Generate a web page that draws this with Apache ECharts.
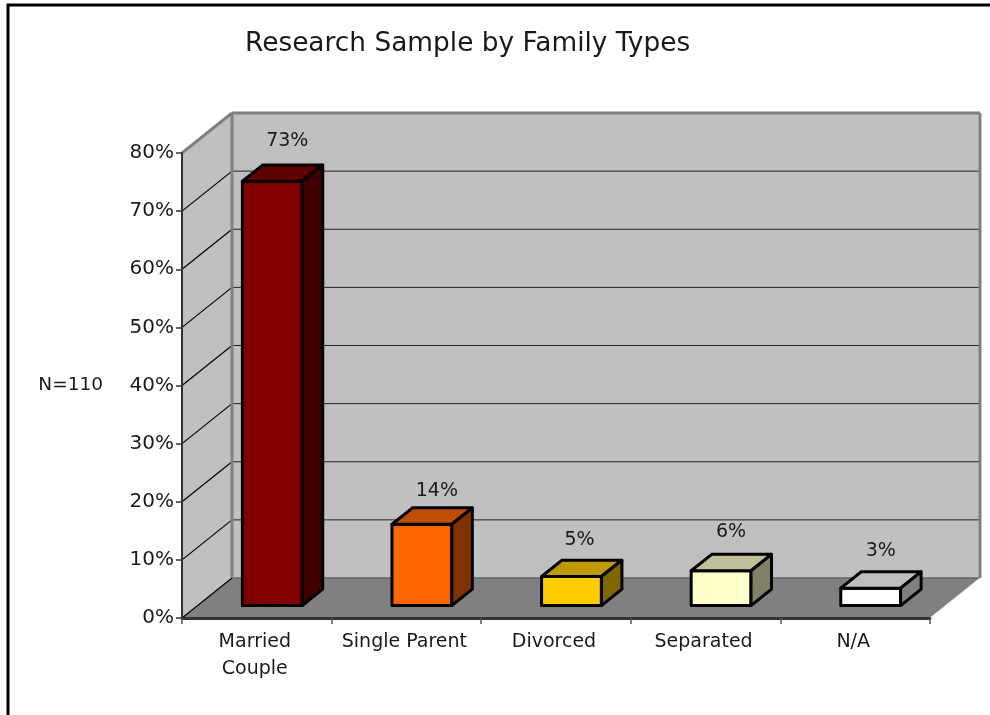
<!DOCTYPE html>
<html>
<head>
<meta charset="utf-8">
<title>Research Sample by Family Types</title>
<script src="https://cdn.jsdelivr.net/npm/echarts@6/dist/echarts.min.js"></script>
<style>
  html, body { margin: 0; padding: 0; background: #fff; }
  #chart { width: 990px; height: 715px; }
</style>
</head>
<body>
<div id="chart"></div>
<script>
// Family types and the share of the sample in each, in percent.
const categories = ['Married\nCouple', 'Single Parent', 'Divorced', 'Separated', 'N/A'];
const shares = [73, 14, 5, 6, 3];
const faceColors = ['#800000', '#FF6600', '#FFCC00', '#FFFFCC', '#FFFFFF'];
const gridValues = [0, 10, 20, 30, 40, 50, 60, 70, 80];

// Oblique projection of the box: how far the back wall sits from the front plane.
const depth = [50, -40];
const barFront = 0.31;
const barBack = 0.72;
const barWidthRatio = 0.4;
// Hand-placed value labels, relative to the top of each bar.
const labelNudge = [[15, -24], [15, -17], [8, -20], [10, -22], [10, -21]];

const FONT = '"DejaVu Sans", Verdana, sans-serif';
const INK = '#1a1a1a';

function shade(hex, k) {
  const n = parseInt(hex.slice(1), 16);
  const c = [n >> 16, (n >> 8) & 255, n & 255].map(v => Math.round(v * k));
  return 'rgb(' + c.join(',') + ')';
}

function along(p, t) {
  return [p[0] + depth[0] * t, p[1] + depth[1] * t];
}

function poly(points, fill, stroke, lineWidth) {
  return {
    type: 'polygon',
    shape: { points },
    style: { fill, stroke: stroke || 'none', lineWidth: lineWidth || 0, lineJoin: 'round' }
  };
}

function line(a, b, stroke, lineWidth) {
  return {
    type: 'line',
    shape: { x1: a[0], y1: a[1], x2: b[0], y2: b[1] },
    style: { stroke, lineWidth }
  };
}

// Walls, floor and gridlines of the box, hung off the axis scales.
function renderBox(params, api) {
  const cs = params.coordSys;
  const left = cs.x;
  const right = cs.x + cs.width;
  const yAt = v => api.coord([0, v])[1];
  const y0 = yAt(0);
  const yTop = yAt(80);
  const fl = [left, y0];
  const fr = [right, y0];
  const tl = [left, yTop];
  const tr = [right, yTop];
  const children = [
    poly([fl, tl, along(tl, 1), along(fl, 1)], '#C0C0C0'),
    poly([along(fl, 1), along(tl, 1), along(tr, 1), along(fr, 1)], '#C0C0C0'),
    poly([fl, along(fl, 1), along(fr, 1), fr], '#808080')
  ];
  gridValues.slice(1, -1).forEach(v => {
    const a = [left, yAt(v)];
    const b = along(a, 1);
    const c = along([right, yAt(v)], 1);
    children.push(line(a, b, '#000', 1.2));
    children.push(line(b, c, '#222', 1));
  });
  children.push(line(along(fl, 1), along(fr, 1), '#666', 1.5));
  children.push(line(fl, along(fl, 1), '#000', 1.2));
  children.push(line(fr, along(fr, 1), '#E8E8E8', 1));
  children.push(line(along(fl, 1), along(tl, 1), '#808080', 3));
  children.push(line(tl, along(tl, 1), '#808080', 3));
  children.push(line(along(tl, 1), along(tr, 1), '#808080', 3));
  children.push(line(along(tr, 1), along(fr, 1), '#808080', 3));
  return { type: 'group', children };
}

// One oblique box per category, with its value written above it.
function renderBar(params, api) {
  const i = api.value(0);
  const value = api.value(1);
  const top = api.coord([i, value]);
  const base = api.coord([i, 0]);
  const half = api.size([1, 0])[0] * barWidthRatio / 2;
  const color = faceColors[i];
  const a = along([top[0] - half, base[1]], barFront);
  const b = along([top[0] + half, base[1]], barFront);
  const c = along([top[0] + half, top[1]], barFront);
  const d = along([top[0] - half, top[1]], barFront);
  const step = p => along(p, barBack - barFront);
  const nudge = labelNudge[i];
  return {
    type: 'group',
    children: [
      poly([a, b, c, d], color, '#000', 3),
      poly([d, c, step(c), step(d)], shade(color, 0.75), '#000', 3),
      poly([b, step(b), step(c), c], shade(color, 0.5), '#000', 3),
      {
        type: 'text',
        style: {
          x: d[0] + half + nudge[0],
          y: step(c)[1] + nudge[1],
          text: value + '%',
          fill: INK,
          font: '19px ' + FONT,
          align: 'center',
          verticalAlign: 'middle'
        }
      }
    ]
  };
}

const chart = echarts.init(document.getElementById('chart'), null, { renderer: 'canvas' });
chart.setOption({
  animation: false,
  backgroundColor: '#fff',
  title: {
    text: 'Research Sample by Family Types',
    left: 240,
    top: 26,
    textStyle: { fontFamily: FONT, fontSize: 26.4, fontWeight: 'normal', color: INK }
  },
  graphic: [{
    type: 'rect',
    shape: { x: 8, y: 5, width: 1100, height: 900 },
    style: { fill: 'none', stroke: '#000', lineWidth: 3 },
    silent: true
  }],
  grid: { left: 182, top: 153, width: 748, height: 465 },
  xAxis: {
    type: 'category',
    data: categories,
    z: 10,
    axisLine: { show: true, lineStyle: { color: '#333', width: 3 } },
    axisTick: { show: true, length: 6, lineStyle: { color: '#555', width: 1.5 } },
    axisLabel: { interval: 0, margin: 11, padding: [0, 4, 0, 0], color: INK, fontFamily: FONT, fontSize: 19, lineHeight: 27 },
    splitLine: { show: false }
  },
  yAxis: {
    type: 'value',
    min: 0,
    max: 80,
    interval: 10,
    name: 'N=110',
    nameLocation: 'middle',
    nameRotate: 0,
    nameGap: 79,
    nameTextStyle: { color: INK, fontFamily: FONT, fontSize: 18.5 },
    z: 10,
    axisLine: { show: true, lineStyle: { color: '#333', width: 2 } },
    axisTick: { show: true, length: 6, lineStyle: { color: '#333', width: 1.5 } },
    axisLabel: { margin: 8, color: INK, fontFamily: FONT, fontSize: 20, formatter: '{value}%' },
    splitLine: { show: false }
  },
  series: [
    { type: 'custom', z: 1, silent: true, renderItem: renderBox, data: [[0, 0]], encode: { x: 0, y: 1 } },
    { type: 'custom', z: 2, silent: true, renderItem: renderBar, data: shares.map((v, i) => [i, v]), encode: { x: 0, y: 1 } }
  ]
});
</script>
</body>
</html>
